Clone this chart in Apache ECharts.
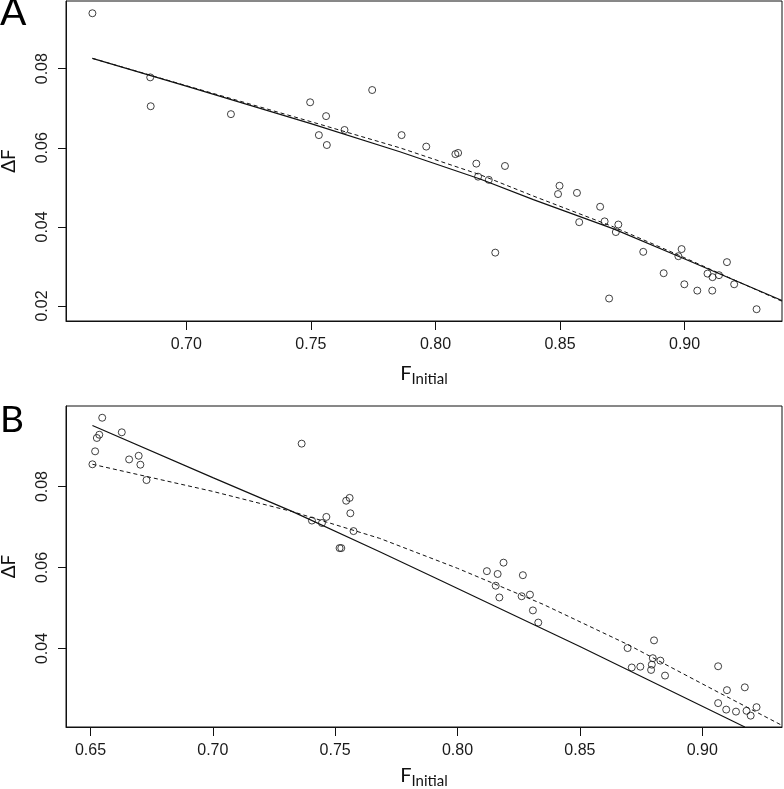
<!DOCTYPE html>
<html>
<head>
<meta charset="utf-8">
<script src="https://cdn.jsdelivr.net/npm/echarts@6/dist/echarts.min.js"></script>
<style>
html,body{margin:0;padding:0;background:#fff;}
#chart{width:784px;height:789px;}
</style>
</head>
<body>
<div id="chart"></div>
<script>
// ---------- Panel A data ----------
const aX = [0.6623,0.6855,0.6857,0.7179,0.7497,0.7561,0.7532,0.7564,0.7635,0.7746,0.7864,0.7963,0.8080,0.8091,0.8164,0.8279,0.8171,0.8214,0.8498,0.8492,0.8568,0.8661,0.8577,0.8679,0.8734,0.8724,0.8240,0.8834,0.8988,0.8975,0.9170,0.8916,0.9092,0.9112,0.9138,0.8999,0.9199,0.9051,0.9111,0.8697,0.9289];
const aY = [0.0940,0.0778,0.0705,0.0685,0.0715,0.0680,0.0632,0.0607,0.0645,0.0746,0.0632,0.0603,0.0584,0.0587,0.0560,0.0554,0.0527,0.0519,0.0504,0.0483,0.0486,0.0451,0.0412,0.0414,0.0406,0.0387,0.0335,0.0337,0.0344,0.0326,0.0311,0.0283,0.0282,0.0273,0.0278,0.0255,0.0255,0.0239,0.0239,0.0219,0.0192];
const aSolidX = [0.6623,0.7000,0.7500,0.7857,0.8179,0.8393,0.8715,0.8975,0.9391];
const aSolidY = [0.0826,0.0756,0.0661,0.0590,0.0521,0.0469,0.0395,0.0326,0.0214];
const aDashX  = [0.6623,0.7000,0.7500,0.7857,0.8179,0.8393,0.8715,0.8975,0.9391];
const aDashY  = [0.0826,0.0757,0.0666,0.0600,0.0532,0.0478,0.0400,0.0329,0.0212];
const aXTicks = [0.70,0.75,0.80,0.85,0.90];
const aYTicks = [0.02,0.04,0.06,0.08];

// ---------- Panel B data ----------
const bX = [0.6548,0.6628,0.6536,0.6526,0.6519,0.6508,0.6658,0.6697,0.6704,0.6729,0.7363,0.7559,0.7545,0.7562,0.7405,0.7446,0.7464,0.7575,0.7518,0.7525,
            0.8120,0.8164,0.8188,0.8267,0.8156,0.8171,0.8262,0.8296,0.8308,0.8330,0.8695,0.8803,0.8798,0.8829,0.8794,0.8712,0.8747,0.8791,0.8848,0.9065,0.9174,0.9101,0.9065,0.9098,0.9138,0.9181,0.9222,0.9198];
const bY = [0.0970,0.0934,0.0928,0.0920,0.0887,0.0855,0.0867,0.0876,0.0854,0.0816,0.0906,0.0772,0.0765,0.0734,0.0716,0.0710,0.0725,0.0690,0.0648,0.0648,
            0.0591,0.0584,0.0612,0.0581,0.0555,0.0526,0.0529,0.0533,0.0494,0.0464,0.0401,0.0420,0.0376,0.0370,0.0360,0.0353,0.0355,0.0347,0.0333,0.0356,0.0304,0.0297,0.0265,0.0249,0.0244,0.0246,0.0255,0.0234];
const bSolidX = [0.6508,0.7000,0.7326,0.7682,0.7927,0.8500,0.9174];
const bSolidY = [0.0951,0.0822,0.0738,0.0639,0.0569,0.0405,0.0206];
const bDashX  = [0.6508,0.7000,0.7326,0.7682,0.8000,0.8350,0.8695,0.9065,0.9326];
const bDashY  = [0.0855,0.0788,0.0738,0.0672,0.0598,0.0509,0.0410,0.0292,0.0210];
const bXTicks = [0.65,0.70,0.75,0.80,0.85,0.90];
const bYTicks = [0.04,0.06,0.08];

const pairs = (xs, ys) => xs.map((x, i) => [x, ys[i]]);
const INK = '#111';
const tickFont = 'Liberation Sans, Arial, sans-serif';
const titleFont = 'Lato, Open Sans, sans-serif';

function xAxisCfg(gi, min, max, ticks, gap) {
  return {
    type: 'value', gridIndex: gi, min: min, max: max,
    splitLine: {show: false},
    axisLine: {show: true, onZero: false, lineStyle: {color: INK, width: 1}},
    axisTick: {show: true, inside: false, length: 9, customValues: ticks, lineStyle: {color: INK, width: 1}},
    axisLabel: {show: true, customValues: ticks, margin: 16, fontFamily: tickFont, fontSize: 16, color: '#1a1a1a',
                formatter: v => v.toFixed(2)},
    name: '{f|F}{s|Initial}', nameLocation: 'middle', nameGap: gap,
    nameTextStyle: {rich: {
      f: {fontFamily: titleFont, fontSize: 20, color: INK, verticalAlign: 'bottom', padding: [0, 0, 3, 0]},
      s: {fontFamily: titleFont, fontSize: 15, color: INK, verticalAlign: 'bottom'}
    }}
  };
}
function yAxisCfg(gi, min, max, ticks) {
  return {
    type: 'value', gridIndex: gi, min: min, max: max,
    splitLine: {show: false},
    axisLine: {show: true, onZero: false, lineStyle: {color: INK, width: 1}},
    axisTick: {show: true, inside: false, length: 8, customValues: ticks, lineStyle: {color: INK, width: 1}},
    axisLabel: {show: true, customValues: ticks, rotate: 90, margin: 15, fontFamily: tickFont, fontSize: 16, color: '#1a1a1a',
                formatter: v => v.toFixed(2)},
    name: 'ΔF', nameLocation: 'middle', nameRotate: 90, nameGap: 48,
    nameTextStyle: {fontFamily: titleFont, fontSize: 19, color: INK}
  };
}
const pointStyle = {color: 'rgba(0,0,0,0)', borderColor: INK, borderWidth: 1};
const lineSeries = (xi, xs, ys, dashed) => ({
  type: 'line', xAxisIndex: xi, yAxisIndex: xi, data: pairs(xs, ys), showSymbol: false, smooth: false,
  lineStyle: {color: INK, width: dashed ? 1 : 1.2, type: dashed ? [4, 3] : 'solid'}
});

const option = {
  animation: false,
  backgroundColor: '#fff',
  grid: [
    {left: 66, top: 1, width: 716, height: 320, show: true, borderColor: INK, borderWidth: 1, backgroundColor: 'transparent',
     containLabel: false, outerBoundsMode: 'none'},
    {left: 66, top: 406, width: 716, height: 321, show: true, borderColor: INK, borderWidth: 1, backgroundColor: 'transparent',
     containLabel: false, outerBoundsMode: 'none'}
  ],
  xAxis: [
    xAxisCfg(0, 0.6517, 0.9391, aXTicks, 43),
    xAxisCfg(1, 0.6400, 0.9326, bXTicks, 39)
  ],
  yAxis: [
    yAxisCfg(0, 0.01622, 0.0971, aYTicks),
    yAxisCfg(1, 0.0206, 0.0999, bYTicks)
  ],
  series: [
    {type: 'scatter', xAxisIndex: 0, yAxisIndex: 0, data: pairs(aX, aY), symbol: 'circle', symbolSize: 7, itemStyle: pointStyle},
    lineSeries(0, aSolidX, aSolidY, false),
    lineSeries(0, aDashX, aDashY, true),
    {type: 'scatter', xAxisIndex: 1, yAxisIndex: 1, data: pairs(bX, bY), symbol: 'circle', symbolSize: 7, itemStyle: pointStyle},
    lineSeries(1, bSolidX, bSolidY, false),
    lineSeries(1, bDashX, bDashY, true)
  ],
  graphic: [
    {type: 'text', left: 0, top: -7, style: {text: 'A', font: '39px Lato, sans-serif', fill: '#000'}},
    {type: 'text', left: 0, top: 402, style: {text: 'B', font: '37px Lato, sans-serif', fill: '#000'}}
  ]
};

const chart = echarts.init(document.getElementById('chart'), null, {renderer: 'canvas'});
chart.setOption(option);
</script>
</body>
</html>
